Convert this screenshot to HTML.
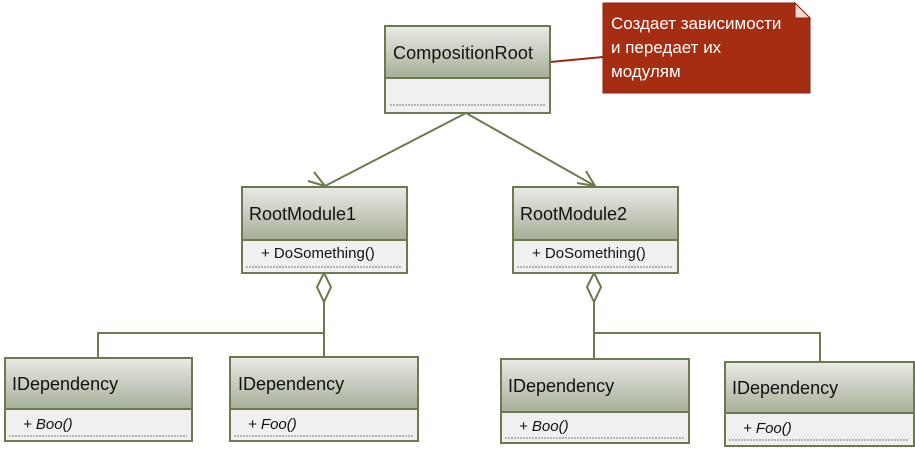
<!DOCTYPE html>
<html><head><meta charset="utf-8"><style>
html,body{margin:0;padding:0;background:#fff;width:915px;height:449px;overflow:hidden}
text{font-family:"Liberation Sans","DejaVu Sans",sans-serif}
</style></head><body>
<svg width="915" height="449" viewBox="0 0 915 449" xmlns="http://www.w3.org/2000/svg">
<defs>
<linearGradient id="g" x1="0" y1="0" x2="0" y2="1">
<stop offset="0" stop-color="#e9ebe6"/><stop offset="1" stop-color="#a6af98"/>
</linearGradient>
</defs>
<g stroke="#6b7a4f" stroke-width="2" fill="none">
<line x1="466" y1="113" x2="325" y2="186"/>
<polyline points="308,181 325,186 314,172"/>
<line x1="466" y1="113" x2="595" y2="186"/>
<polyline points="577,183 595,186 586,171"/>
<line x1="324" y1="302" x2="324" y2="357"/>
<polyline points="98,357 98,333 324,333"/>
<line x1="594" y1="302" x2="594" y2="359"/>
<polyline points="594,333 820,333 820,362"/>
</g>
<g stroke="#6b7a4f" stroke-width="2" fill="#fff">
<polygon points="324,273 331,287 324,302 317,287"/>
<polygon points="594,273 601,287 594,302 587,287"/>
</g>
<line x1="550" y1="62" x2="603" y2="57" stroke="#9b2a14" stroke-width="2"/>
<polygon points="603,3 795,3 810,18 810,93 603,93" fill="#a52e12" stroke="#8a2510"/>
<polygon points="795,3 810,18 795,18" fill="#f3d9cf" stroke="#8a2510"/>
<text x="611" y="29" font-size="17" fill="#fff">Создает зависимости</text>
<text x="611" y="53" font-size="17" fill="#fff">и передает их</text>
<text x="611" y="77" font-size="17" fill="#fff">модулям</text>

<rect x="385" y="26" width="165" height="52" fill="url(#g)" stroke="#6b7a4f" stroke-width="2"/>
<rect x="385" y="78" width="165" height="35" fill="#f0f0f0" stroke="#6b7a4f" stroke-width="2"/>
<line x1="390" y1="105" x2="546" y2="105" stroke="#777" stroke-dasharray="2,1"/>
<text x="393" y="59" font-size="18" fill="#111" textLength="140">CompositionRoot</text>

<rect x="242" y="187" width="165" height="53" fill="url(#g)" stroke="#6b7a4f" stroke-width="2"/>
<rect x="242" y="240" width="165" height="33" fill="#f0f0f0" stroke="#6b7a4f" stroke-width="2"/>
<line x1="246" y1="267" x2="402" y2="267" stroke="#777" stroke-dasharray="2,1"/>
<text x="249" y="220" font-size="18" fill="#111">RootModule1</text>
<text x="261" y="258" font-size="15" fill="#111">+ DoSomething()</text>

<rect x="513" y="187" width="165" height="53" fill="url(#g)" stroke="#6b7a4f" stroke-width="2"/>
<rect x="513" y="240" width="165" height="33" fill="#f0f0f0" stroke="#6b7a4f" stroke-width="2"/>
<line x1="517" y1="267" x2="673" y2="267" stroke="#777" stroke-dasharray="2,1"/>
<text x="520" y="220" font-size="18" fill="#111">RootModule2</text>
<text x="532" y="258" font-size="15" fill="#111">+ DoSomething()</text>

<rect x="5" y="358" width="187" height="51" fill="url(#g)" stroke="#6b7a4f" stroke-width="2"/>
<rect x="5" y="409" width="187" height="32" fill="#f0f0f0" stroke="#6b7a4f" stroke-width="2"/>
<line x1="9" y1="436" x2="187" y2="436" stroke="#777" stroke-dasharray="2,1"/>
<text x="12" y="390" font-size="18" fill="#111">IDependency</text>
<text x="23" y="429" font-size="15" font-style="italic" fill="#111">+ Boo()</text>

<rect x="230" y="357" width="188" height="52" fill="url(#g)" stroke="#6b7a4f" stroke-width="2"/>
<rect x="230" y="409" width="188" height="32" fill="#f0f0f0" stroke="#6b7a4f" stroke-width="2"/>
<line x1="234" y1="436" x2="413" y2="436" stroke="#777" stroke-dasharray="2,1"/>
<text x="238" y="390" font-size="18" fill="#111">IDependency</text>
<text x="248" y="429" font-size="15" font-style="italic" fill="#111">+ Foo()</text>

<rect x="501" y="359" width="188" height="53" fill="url(#g)" stroke="#6b7a4f" stroke-width="2"/>
<rect x="501" y="412" width="188" height="31" fill="#f0f0f0" stroke="#6b7a4f" stroke-width="2"/>
<line x1="505" y1="438" x2="684" y2="438" stroke="#777" stroke-dasharray="2,1"/>
<text x="508" y="392" font-size="18" fill="#111">IDependency</text>
<text x="519" y="431" font-size="15" font-style="italic" fill="#111">+ Boo()</text>

<rect x="725" y="362" width="189" height="51" fill="url(#g)" stroke="#6b7a4f" stroke-width="2"/>
<rect x="725" y="413" width="189" height="33" fill="#f0f0f0" stroke="#6b7a4f" stroke-width="2"/>
<line x1="729" y1="440" x2="909" y2="440" stroke="#777" stroke-dasharray="2,1"/>
<text x="732" y="394" font-size="18" fill="#111">IDependency</text>
<text x="743" y="433" font-size="15" font-style="italic" fill="#111">+ Foo()</text>
</svg>
</body></html>
